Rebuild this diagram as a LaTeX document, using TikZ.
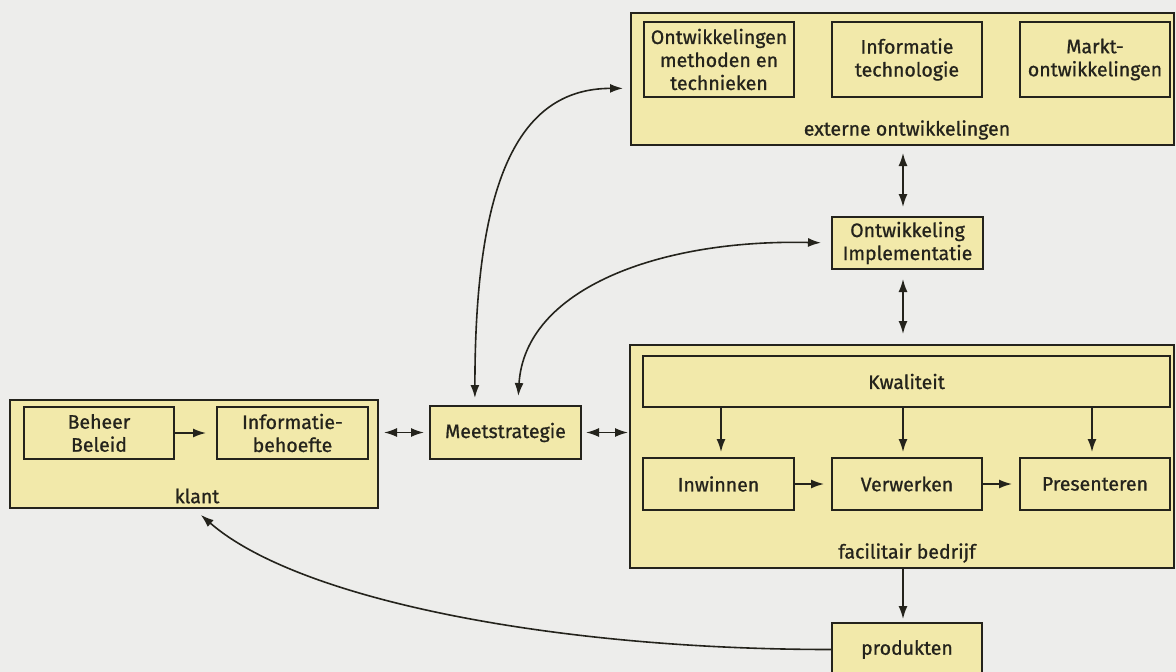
\documentclass[tikz,border=0pt]{standalone}
\usepackage{fontspec}
\setmainfont{Fira Sans}[FakeBold=0.9]
\usetikzlibrary{arrows.meta,calc}
\definecolor{paper}{HTML}{EDEDEB}
\definecolor{boxfill}{HTML}{F2E9AA}
\definecolor{ink}{HTML}{24231C}
\begin{document}
\begin{tikzpicture}[x=1pt,y=-1pt,
  box/.style={draw=ink, fill=boxfill, line width=2pt, inner sep=0pt,
    align=center, text=ink, font=\fontsize{19.5}{23}\selectfont},
  lbl/.style={text=ink, font=\fontsize{19.5}{23}\selectfont, inner sep=0pt},
  tip/.tip={Latex[length=13pt,width=9pt]},
  arr/.style={draw=ink, line width=1.6pt, -tip},
  dbl/.style={draw=ink, line width=1.6pt, tip-tip},
]
\fill[paper] (0,0) rectangle (1176,672);
\useasboundingbox (0,0) rectangle (1176,672);

% external developments
\node[box, minimum width=543pt, minimum height=132pt] (ext) at (902.5,79) {};
\node[box, minimum width=150pt, minimum height=75pt] (m1) at (719,59.5)
  {Ontwikkelingen\\methoden en\\technieken};
\node[box, minimum width=150pt, minimum height=75pt] (m2) at (907,59.5)
  {Informatie\\technologie};
\node[box, minimum width=150pt, minimum height=75pt] (m3) at (1095,59.5)
  {Markt-\\ontwikkelingen};
\node[lbl] (extl) at (907,130) {externe ontwikkelingen};

% development / implementation
\node[box, minimum width=151pt, minimum height=52pt] (oi) at (907.5,243)
  {Ontwikkeling\\Implementatie};

% facility company
\node[box, minimum width=544pt, minimum height=223pt] (fac) at (902,456.5) {};
\node[box, minimum width=527pt, minimum height=51pt] (kw) at (906.5,381.5) {Kwaliteit};
\node[box, minimum width=151pt, minimum height=52pt] (inw) at (718.5,484) {Inwinnen};
\node[box, minimum width=150pt, minimum height=52pt] (ver) at (907,484) {Verwerken};
\node[box, minimum width=150pt, minimum height=52pt] (pre) at (1095,484) {Presenteren};
\node[lbl] (facl) at (907,553) {facilitair bedrijf};

% products
\node[box, minimum width=150pt, minimum height=53pt] (prod) at (907,649.5) {produkten};

% customer
\node[box, minimum width=368pt, minimum height=108pt] (klant) at (194,454) {};
\node[box, minimum width=150pt, minimum height=52pt] (bb) at (99,433) {Beheer\\Beleid};
\node[box, minimum width=151pt, minimum height=52pt] (ib) at (292.5,433) {Informatie-\\behoefte};
\node[lbl] (klantl) at (197,496) {klant};

% measuring strategy
\node[box, minimum width=151pt, minimum height=53pt] (meet) at (505.5,432.5) {Meetstrategie};

% connectors
\draw[dbl, shorten <=7pt, shorten >=9pt] (ext.south -| 903,0) -- (oi.north -| 903,0);
\draw[dbl, shorten <=9pt, shorten >=10pt] (oi.south -| 903,0) -- (fac.north -| 903,0);

\draw[arr, shorten >=5pt] (kw.south -| 721,0) -- (inw.north -| 721,0);
\draw[arr, shorten >=5pt] (kw.south -| 903,0) -- (ver.north -| 903,0);
\draw[arr, shorten >=5pt] (kw.south -| 1092,0) -- (pre.north -| 1092,0);
\draw[arr, shorten >=7pt] (inw.east) -- (ver.west);
\draw[arr, shorten >=7pt] (ver.east) -- (pre.west);

\draw[arr, shorten >=10pt] (bb.east) -- (ib.west);
\draw[dbl, shorten <=5pt, shorten >=5pt] (klant.east |- meet.west) -- (meet.west);
\draw[dbl, shorten <=4pt, shorten >=1pt] (meet.east) -- (fac.west |- meet.east);

\draw[arr, shorten >=3pt] (fac.south -| 903,0) -- (prod.north -| 903,0);

\draw[dbl, shorten <=7pt, shorten >=7pt]
  ($(meet.north west)!.3!(meet.north east)$) .. controls +(0,-219) and +(-114,0) ..
  ($(ext.north west)!.57!(ext.south west)$);
\draw[dbl, shorten <=9pt, shorten >=10pt]
  ($(meet.north west)!.58!(meet.north east)$) .. controls +(7,-116) and +(-172,-4) ..
  (oi.west);
\draw[arr, shorten >=9pt]
  (prod.west) .. controls +(-272,0) and +(106,92) .. (klant.south);
\end{tikzpicture}
\end{document}
